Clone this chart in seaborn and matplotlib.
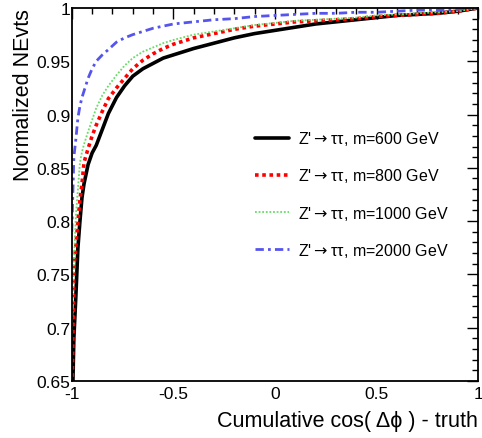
import matplotlib
matplotlib.use("Agg")
import matplotlib.pyplot as plt
from matplotlib.ticker import FixedLocator, MultipleLocator, FixedFormatter
import seaborn as sns
import pandas as pd

sns.set_theme(style="white")
plt.rcParams['font.family'] = ['Liberation Sans', 'DejaVu Sans']
plt.rcParams['mathtext.fontset'] = 'dejavusans'

x_vals = [-1.0, -0.99, -0.98, -0.97, -0.96, -0.95, -0.94, -0.92, -0.90, -0.88,
          -0.85, -0.82, -0.78, -0.74, -0.70, -0.65, -0.60, -0.55, -0.50, -0.40,
          -0.30, -0.20, -0.10, 0.0, 0.1, 0.2, 0.3, 0.4, 0.5, 0.6, 0.7, 0.8, 0.9, 1.0]

m600 = [0.60, 0.69, 0.73, 0.775, 0.80, 0.822, 0.835, 0.853, 0.864, 0.871,
        0.886, 0.901, 0.916, 0.927, 0.936, 0.943, 0.948, 0.953, 0.956, 0.962,
        0.967, 0.972, 0.976, 0.979, 0.982, 0.985, 0.987, 0.989, 0.991, 0.993,
        0.994, 0.995, 0.997, 1.0]
m800 = [0.62, 0.755, 0.777, 0.80, 0.82, 0.835, 0.855, 0.868, 0.880, 0.890,
        0.903, 0.915, 0.925, 0.934, 0.943, 0.951, 0.957, 0.962, 0.966, 0.972,
        0.976, 0.980, 0.983, 0.985, 0.987, 0.988, 0.989, 0.990, 0.992, 0.993,
        0.994, 0.995, 0.997, 1.0]
m1000 = [0.69, 0.76, 0.805, 0.83, 0.855, 0.865, 0.872, 0.884, 0.895, 0.906,
         0.918, 0.927, 0.937, 0.946, 0.953, 0.959, 0.963, 0.967, 0.970, 0.975,
         0.978, 0.981, 0.984, 0.986, 0.988, 0.989, 0.990, 0.991, 0.993, 0.994,
         0.995, 0.996, 0.997, 1.0]
m2000 = [0.79, 0.86, 0.877, 0.897, 0.908, 0.916, 0.922, 0.934, 0.943, 0.950,
         0.956, 0.961, 0.968, 0.972, 0.975, 0.978, 0.981, 0.983, 0.985, 0.987,
         0.989, 0.990, 0.992, 0.993, 0.994, 0.995, 0.995, 0.996, 0.996, 0.997,
         0.998, 0.998, 0.999, 1.0]

labels = ["Z'$\\rightarrow$ττ, m=600 GeV", "Z'$\\rightarrow$ττ, m=800 GeV",
          "Z'$\\rightarrow$ττ, m=1000 GeV", "Z'$\\rightarrow$ττ, m=2000 GeV"]
x_ticks = [-1, -0.5, 0, 0.5, 1]
x_ticklabels = ["-1", "-0.5", "0", "0.5", "1"]
y_ticks = [0.65, 0.7, 0.75, 0.8, 0.85, 0.9, 0.95, 1.0]
y_ticklabels = ["0.65", "0.7", "0.75", "0.8", "0.85", "0.9", "0.95", "1"]

series = [m600, m800, m1000, m2000]
styles = [
    dict(color="black", lw=2.6, linestyle="-"),
    dict(color="#ff0000", lw=2.6, linestyle=(0, (1, 1))),
    dict(color="#66dd66", lw=1.3, linestyle=(0, (1, 1))),
    dict(color="#5555ee", lw=2.0, linestyle=(0, (3, 1.5, 1, 1.5))),
]

fig = plt.figure(figsize=(4.82, 4.39), dpi=100)
ax = fig.add_axes([0.149, 0.130, 0.843, 0.8495])

for vals, lab, st in zip(series, labels, styles):
    df = pd.DataFrame({"x": x_vals, "y": vals})
    sns.lineplot(data=df, x="x", y="y", ax=ax, label=lab, estimator=None,
                 sort=False, **st)

ax.set_xlim(-1, 1)
ax.set_ylim(0.65, 1.0)
ax.xaxis.set_major_locator(FixedLocator(x_ticks))
ax.xaxis.set_major_formatter(FixedFormatter(x_ticklabels))
ax.xaxis.set_minor_locator(MultipleLocator(0.1))
ax.yaxis.set_major_locator(FixedLocator(y_ticks))
ax.yaxis.set_major_formatter(FixedFormatter(y_ticklabels))
ax.yaxis.set_minor_locator(MultipleLocator(0.01))
ax.tick_params(which="both", direction="in", top=True, right=True,
               color="black", width=1.0, labelsize=12.5, labelcolor="black")
ax.tick_params(which="major", length=8)
ax.tick_params(which="minor", length=4)
ax.tick_params(axis="x", pad=4)
ax.tick_params(axis="y", pad=1)
for s in ax.spines.values():
    s.set_color("black")
    s.set_linewidth(1.3)

ax.set_xlabel("Cumulative cos( Δϕ ) - truth", fontsize=15.5, color="black",
              loc="right", labelpad=6)
ax.set_ylabel("Normalized NEvts", fontsize=15.5, color="black",
              loc="top", labelpad=2)

leg = ax.legend(loc="upper left", bbox_to_anchor=(0.452, 0.675), frameon=False,
                fontsize=11.5, handlelength=2.1, handletextpad=0.55,
                labelspacing=1.2, borderpad=0, borderaxespad=0)
for t in leg.get_texts():
    t.set_color("black")

fig.savefig("out.png", dpi=100)
